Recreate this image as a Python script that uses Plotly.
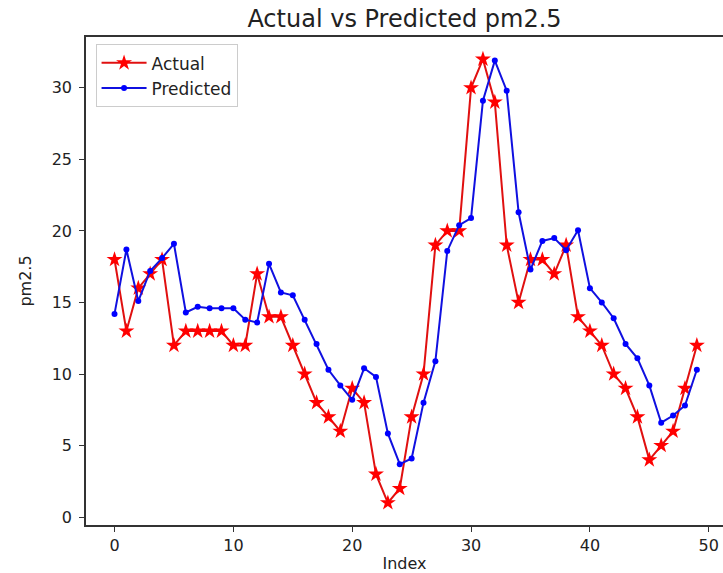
import plotly.graph_objects as go

index = list(range(50))
actual = [18, 13, 16, 17, 18, 12, 13, 13, 13, 13,
          12, 12, 17, 14, 14, 12, 10, 8, 7, 6,
          9, 8, 3, 1, 2, 7, 10, 19, 20, 20,
          30, 32, 29, 19, 15, 18, 18, 17, 19, 14,
          13, 12, 10, 9, 7, 4, 5, 6, 9, 12]
predicted = [14.2, 18.7, 15.1, 17.2, 18.1, 19.1, 14.3, 14.7, 14.6, 14.6,
             14.6, 13.8, 13.6, 17.7, 15.7, 15.5, 13.8, 12.1, 10.3, 9.2,
             8.2, 10.4, 9.8, 5.85, 3.7, 4.1, 8.0, 10.9, 18.6, 20.4,
             20.9, 29.1, 31.9, 29.8, 21.3, 17.3, 19.3, 19.5, 18.65, 20.05,
             16.0, 15.0, 13.9, 12.1, 11.1, 9.2, 6.6, 7.1, 7.8, 10.3]
x_ticks = [0, 10, 20, 30, 40, 50]
y_ticks = [0, 5, 10, 15, 20, 25, 30]

FONT = "DejaVu Sans"
TXT = "#222222"

fig = go.Figure()
fig.add_trace(go.Scatter(
    x=index, y=actual, mode="lines+markers", name="Actual",
    line=dict(color="#e01010", width=2),
    marker=dict(symbol="star", size=12, color="#ff0000"),
))
fig.add_trace(go.Scatter(
    x=index, y=predicted, mode="lines+markers", name="Predicted",
    line=dict(color="#1010e0", width=2),
    marker=dict(symbol="circle", size=6, color="#0000ff"),
))

fig.update_layout(
    width=723, height=573,
    margin=dict(l=86, r=0, t=37, b=48, autoexpand=False),
    paper_bgcolor="white", plot_bgcolor="white",
    font=dict(family=FONT, size=16, color=TXT),
    title=dict(text="Actual vs Predicted pm2.5", x=0.5, xanchor="center",
               xref="paper", y=0.967, yref="container", yanchor="middle",
               font=dict(size=24, family=FONT, color=TXT), automargin=False),
    showlegend=True,
    legend=dict(x=0.015, y=0.985, xanchor="left", yanchor="top",
                bgcolor="rgba(255,255,255,0.8)", bordercolor="#cccccc", borderwidth=1,
                font=dict(size=17, family=FONT), tracegroupgap=0, itemwidth=45),
)
fig.update_xaxes(
    range=[-2.4, 51.2], tickvals=x_ticks, ticktext=[str(v) for v in x_ticks],
    showgrid=False, zeroline=False, showline=True, linecolor="#333333", linewidth=1.5,
    mirror=True, ticks="outside", ticklen=5, tickcolor="#333333", automargin=False,
    title=dict(text="Index", font=dict(size=16, family=FONT), standoff=5),
)
fig.update_yaxes(
    range=[-0.55, 33.55], tickvals=y_ticks, ticktext=[str(v) for v in y_ticks],
    showgrid=False, zeroline=False, showline=True, linecolor="#333333", linewidth=1.5,
    mirror=False, ticks="outside", ticklen=5, tickcolor="#333333", automargin=False,
    ticklabelstandoff=4,
    title=dict(text="pm2.5", font=dict(size=16, family=FONT), standoff=16),
)

fig.write_html("out.html", config={"displayModeBar": False},
               post_script="document.body.style.margin='0';document.body.style.overflow='hidden';")
